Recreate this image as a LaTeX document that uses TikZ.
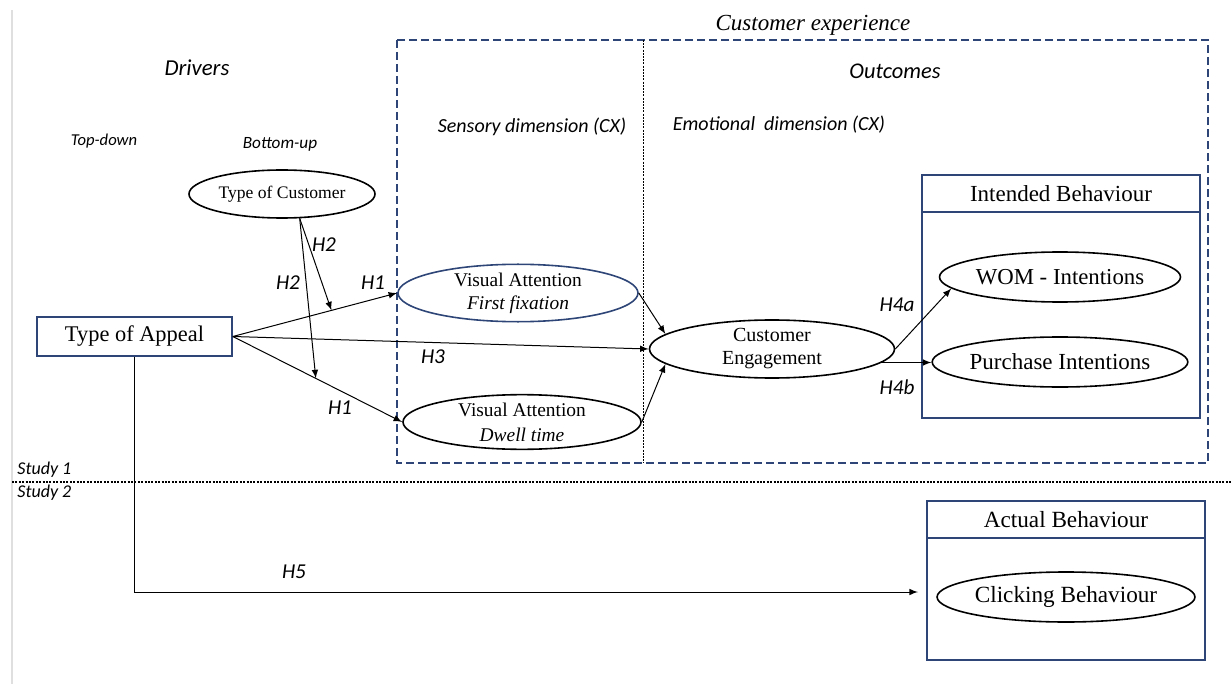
\documentclass[tikz,border=0pt]{standalone}
\usepackage{fontspec}
\setmainfont{Liberation Serif}
\newfontfamily\calibri{Carlito}
\usetikzlibrary{shapes.geometric,calc}
\definecolor{navy}{HTML}{2E4677}

\begin{document}
\begin{tikzpicture}[x=0.5pt,y=-0.5pt,>=latex,
    oval/.style={ellipse,draw,line width=0.8pt,inner sep=0pt,align=center},
    box/.style={rectangle,draw=navy,line width=0.8pt,inner sep=0pt},
    hyp/.style={font=\calibri\itshape\fontsize{10.6}{12}\selectfont},
    head/.style={font=\calibri\itshape\fontsize{#1}{12}\selectfont},
    link/.style={->,line width=0.5pt}]
            \useasboundingbox ( 0,0 ) rectangle ( 1231,684 );
            \draw [gray!25,line width=1pt] ( 12,10 ) -- ( 12,684 );
            % customer experience frame
            \draw [navy,line width=0.75pt,dash pattern=on 4pt off 2pt] ( 397,40 ) rectangle ( 1208,463 );
            \draw [line width=0.5pt,dash pattern=on 1pt off 0.6pt] ( 643,40 ) -- ( 643,463 );
            \draw [line width=0.9pt,dash pattern=on 1pt off 0.7pt] ( 12,482 ) -- ( 1231,482 );
            % headings
            \node [font=\itshape\fontsize{11.5}{13}\selectfont] (cx) at ( 813,25 ) {Customer experience};
            \node [head=11.4] (drivers) at ( 197,68 ) {Drivers};
            \node [head=11.2] (outcomes) at ( 895,71 ) {Outcomes};
            \node [head=8.3] (topdown) at ( 104,141 ) {Top-down};
            \node [head=8.6] (bottomup) at ( 280,144 ) {Bottom-up};
            \node [head=10] (sensory) at ( 532,127 ) {Sensory dimension (CX)};
            \node [head=10] (emotional) at ( 779,125 ) {Emotional\ \ dimension (CX)};
            \node [head=9,anchor=west,inner sep=0pt] (study1) at ( 17,470 ) {Study 1};
            \node [head=9,anchor=west,inner sep=0pt] (study2) at ( 17,493 ) {Study 2};
            % constructs
            \node [box,minimum width=97.5pt,minimum height=19.5pt,font=\fontsize{11.2}{13}\selectfont] (appeal) at ( 134.5,336.5 ) {Type of Appeal};
            \node [oval,minimum width=93pt,minimum height=24pt,font=\fontsize{8.8}{10}\selectfont] (cust) at ( 282,194 ) {Type of Customer};
            \node [oval,draw=navy,minimum width=120pt,minimum height=21.5pt,font=\fontsize{9.7}{12.5}\selectfont] (fix) at ( 518,293 ) {Visual Attention\\[-1pt] \textit{First fixation}};
            \node [oval,minimum width=119pt,minimum height=25.5pt,font=\fontsize{9.7}{12.5}\selectfont] (dwell) at ( 522,422 ) {Visual Attention\\ \textit{Dwell time}};
            \node [oval,minimum width=122.5pt,minimum height=29pt,font=\fontsize{10}{11.5}\selectfont] (eng) at ( 772,349 ) {Customer\\ Engagement};
            % behaviour boxes
            \node [box,minimum width=139pt,minimum height=121.5pt] (intbox) at ( 1061,296.5 ) {};
            \node [box,minimum width=139pt,minimum height=18.5pt,anchor=north,font=\fontsize{11.5}{13}\selectfont] (inthead) at (intbox.north) {Intended Behaviour};
            \node [oval,minimum width=120.5pt,minimum height=25pt,font=\fontsize{11.4}{13}\selectfont] (wom) at ( 1060,277 ) {WOM - Intentions};
            \node [oval,minimum width=120.5pt,minimum height=25pt,font=\fontsize{11.5}{13}\selectfont] (purch) at ( 1060,362 ) {Purchase Intentions};
            \node [box,minimum width=139pt,minimum height=79.5pt] (actbox) at ( 1066,580.5 ) {};
            \node [box,minimum width=139pt,minimum height=18.5pt,anchor=north,font=\fontsize{11.6}{13}\selectfont] (acthead) at (actbox.north) {Actual Behaviour};
            \node [oval,minimum width=121pt,minimum height=25pt,font=\fontsize{11.6}{13}\selectfont] (click) at ( 1066,597 ) {Clicking Behaviour};
            % paths
            \coordinate (m1) at ($(appeal.east)!0.6!(fix.west)$);
            \coordinate (m2) at ($(appeal.east)!0.49!(dwell.west)$);
            \coordinate (h5end) at ( 918,592 );
            \draw [link] (appeal.east) -- (fix.west);
            \draw [link] (appeal.east) -- (dwell.west);
            \draw [link] (appeal.east) -- (eng.west);
            \draw [link] (cust.-54) -- (m1);
            \draw [link] (cust.-54) -- (m2);
            \draw [link] (fix.east) -- (eng.172);
            \draw [link] (dwell.east) -- (eng.188);
            \draw [link] (eng.east) -- (wom.186);
            \draw [link] (eng.-7.5) -- (eng.-7.5 -| purch.west);
            \draw [link] (appeal.south) |- (h5end);
            % hypothesis labels
            \node [hyp] (h2a) at ( 324,245 ) {H2};
            \node [hyp] (h2b) at ( 288,283 ) {H2};
            \node [hyp] (h1a) at ( 373,283 ) {H1};
            \node [hyp] (h1b) at ( 340,408 ) {H1};
            \node [hyp] (h3) at ( 433,357 ) {H3};
            \node [hyp] (h4a) at ( 897,305 ) {H4a};
            \node [hyp] (h4b) at ( 897,387 ) {H4b};
            \node [hyp] (h5) at ( 294,572 ) {H5};
\end{tikzpicture}
\end{document}
